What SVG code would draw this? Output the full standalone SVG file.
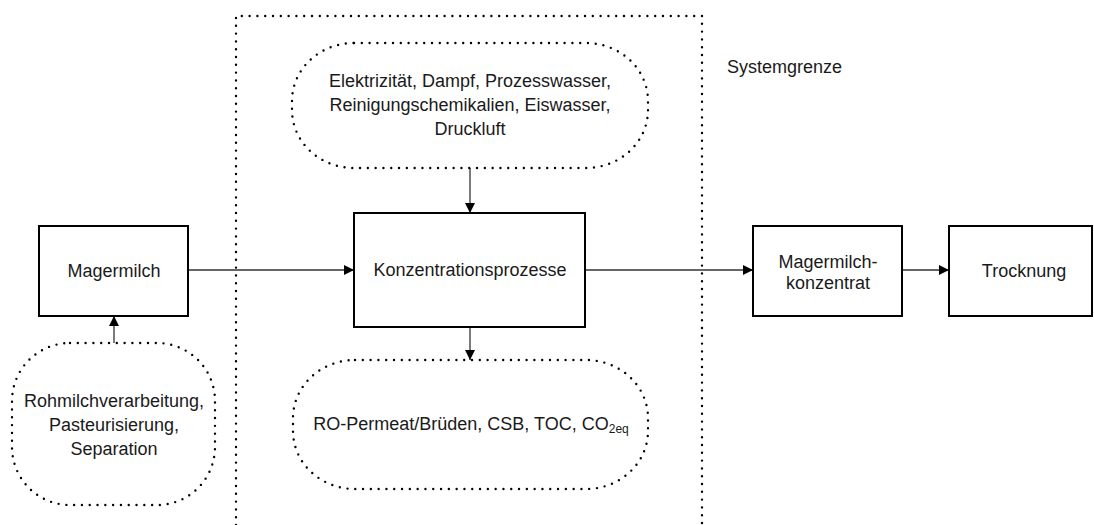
<svg xmlns="http://www.w3.org/2000/svg" width="1094" height="525" viewBox="0 0 1094 525">
<defs>
<marker id="arr" viewBox="0 0 10 10" refX="10" refY="5" markerWidth="10" markerHeight="10" markerUnits="userSpaceOnUse" orient="auto">
<path d="M0,0 L10,5 L0,10 Z" fill="#000"/>
</marker>
<style>
.box{fill:#fff;stroke:#000;stroke-width:2}
.dot{fill:none;stroke:#000;stroke-width:2.4;stroke-dasharray:0 7.8;stroke-linecap:round}
.t{font-family:"Liberation Sans",Arial,sans-serif;font-size:18px;fill:#1a1a1a;text-anchor:middle}
.c{fill:none;stroke:#333;stroke-width:1.3}
</style>
</defs>
<rect width="1094" height="525" fill="#fff"/>
<g id="systemgrenze">
<path class="dot" d="M236,525 V16 H702 V525"/>
<text class="t" x="727" y="73" style="text-anchor:start">Systemgrenze</text>
</g>
<g id="connectors">
<line class="c" x1="188" y1="270" x2="354" y2="270" marker-end="url(#arr)"/>
<line class="c" x1="585" y1="270" x2="753" y2="270" marker-end="url(#arr)"/>
<line class="c" x1="902" y1="270" x2="949" y2="270" marker-end="url(#arr)"/>
<line class="c" x1="470" y1="168" x2="470" y2="213" marker-end="url(#arr)"/>
<line class="c" x1="470" y1="327" x2="470" y2="360" marker-end="url(#arr)"/>
<line class="c" x1="114" y1="343" x2="114" y2="316" marker-end="url(#arr)"/>
</g>
<g id="inputs">
<rect class="dot" x="292" y="43" width="356" height="125" rx="62" ry="58"/>
<text class="t" x="470" y="87">Elektrizität, Dampf, Prozesswasser,</text>
<text class="t" x="470" y="111">Reinigungschemikalien, Eiswasser,</text>
<text class="t" x="470" y="135">Druckluft</text>
</g>
<g id="outputs">
<rect class="dot" x="293" y="360" width="355" height="129" rx="62" ry="58"/>
<text class="t" x="471" y="430">RO-Permeat/Brüden, CSB, TOC, CO<tspan font-size="12" dy="3">2eq</tspan></text>
</g>
<g id="vorprozesse">
<rect class="dot" x="12" y="343" width="203" height="162" rx="58" ry="58"/>
<text class="t" x="114" y="407">Rohmilchverarbeitung,</text>
<text class="t" x="114" y="431">Pasteurisierung,</text>
<text class="t" x="114" y="455">Separation</text>
</g>
<g id="magermilch">
<rect class="box" x="39" y="226" width="149" height="90"/>
<text class="t" x="114" y="277">Magermilch</text>
</g>
<g id="konzentrationsprozesse">
<rect class="box" x="354" y="213" width="231" height="114"/>
<text class="t" x="470" y="276">Konzentrationsprozesse</text>
</g>
<g id="magermilchkonzentrat">
<rect class="box" x="753" y="226" width="149" height="90"/>
<text class="t" x="828" y="268">Magermilch-</text>
<text class="t" x="828" y="289">konzentrat</text>
</g>
<g id="trocknung">
<rect class="box" x="949" y="226" width="143" height="90"/>
<text class="t" x="1024" y="277">Trocknung</text>
</g>
</svg>
